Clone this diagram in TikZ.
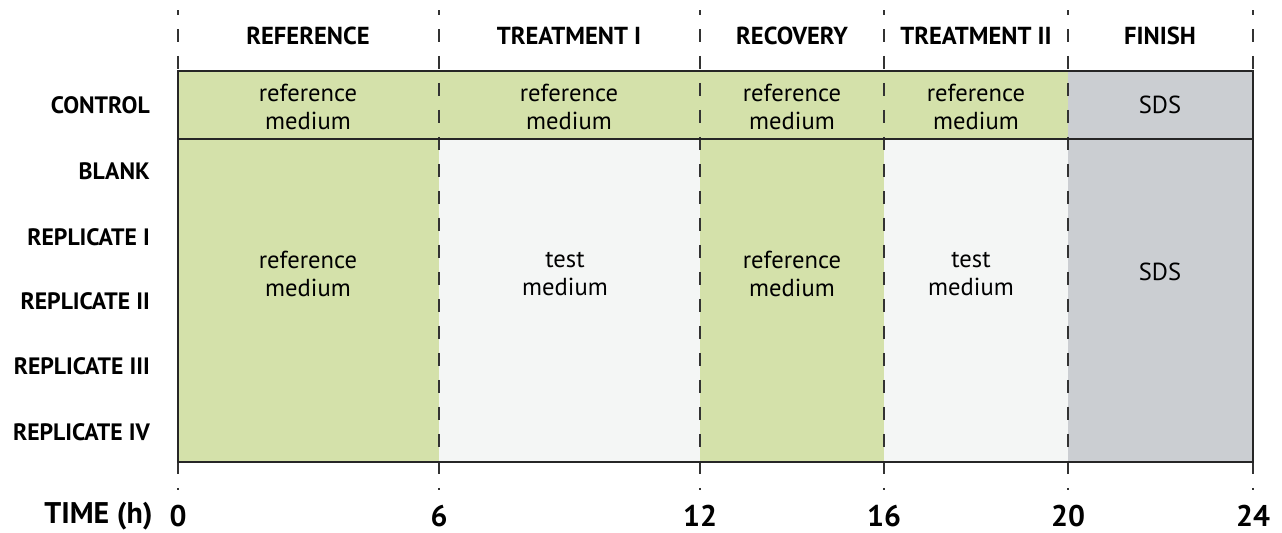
\documentclass[tikz,border=0pt]{standalone}
\usepackage{fontspec}
\setmainfont{PT Sans}
\usepackage{tikz}

\definecolor{refgreen}{RGB}{212,225,170}
\definecolor{testgray}{RGB}{244,246,245}
\definecolor{sdsgray}{RGB}{203,206,210}

\begin{document}
\begin{tikzpicture}[x=0.02cm, y=-0.02cm,
    phase/.style = {font=\bfseries\fontsize{14}{16}\selectfont},
    group/.style = {anchor=east, font=\bfseries\fontsize{13.5}{15}\selectfont},
    medium/.style = {align=center, font=\fontsize{14}{16}\selectfont},
    hour/.style = {inner sep=0pt, font=\bfseries\fontsize{17}{19}\selectfont},
    border/.style = {draw=black!85, line width=0.8pt},
    grid/.style = {draw=black!80, line width=0.6pt, dash pattern=on 0.26cm off 0.28cm, dash phase=0.16cm}]
    \useasboundingbox (0,0) rectangle (1282,532);

    % fills
    \fill[refgreen] (178,71) rectangle (1068,139);
    \fill[refgreen] (178,139) rectangle (439,462);
    \fill[testgray] (439,139) rectangle (700,462);
    \fill[refgreen] (700,139) rectangle (884,462);
    \fill[testgray] (884,139) rectangle (1068,462);
    \fill[sdsgray] (1068,71) rectangle (1253,462);

    % time lines
    \coordinate (h0) at (178,516);
    \coordinate (h6) at (439,516);
    \coordinate (h12) at (700,516);
    \coordinate (h16) at (884,516);
    \coordinate (h20) at (1068,516);
    \coordinate (h24) at (1253,516);
    \draw[grid] (178,10) -- (178,490);
    \draw[grid] (439,10) -- (439,490);
    \draw[grid] (700,10) -- (700,490);
    \draw[grid] (884,10) -- (884,490);
    \draw[grid] (1068,10) -- (1068,490);
    \draw[grid] (1253,10) -- (1253,490);

    \draw[border] (178,71) rectangle (1253,462);
    \draw[border] (178,139) -- (1253,139);

    % phases
    \node[phase] (ref) at (308,36) {REFERENCE};
    \node[phase] (treat1) at (569,36) {TREATMENT I};
    \node[phase] (recov) at (792,36) {RECOVERY};
    \node[phase] (treat2) at (976,36) {TREATMENT II};
    \node[phase] (finish) at (1160,36) {FINISH};

    % groups
    \node[group] (control) at (156,105) {CONTROL};
    \node[group] (blank) at (156,171) {BLANK};
    \node[group] (rep1) at (156,237) {REPLICATE I};
    \node[group] (rep2) at (156,301) {REPLICATE II};
    \node[group] (rep3) at (156,366) {REPLICATE III};
    \node[group] (rep4) at (156,432) {REPLICATE IV};

    % media
    \node[medium] (c1) at (308,107) {reference\\medium};
    \node[medium] (c2) at (569,107) {reference\\medium};
    \node[medium] (c3) at (792,107) {reference\\medium};
    \node[medium] (c4) at (976,107) {reference\\medium};
    \node[medium] (c5) at (1160,105) {SDS};
    \node[medium] (m1) at (308,274) {reference\\medium};
    \node[medium] (m2) at (565,274) {test\\medium};
    \node[medium] (m3) at (792,274) {reference\\medium};
    \node[medium] (m4) at (971,274) {test\\medium};
    \node[medium] (m5) at (1160,272) {SDS};

    % time axis
    \node[hour, anchor=east] (time) at (153,516) {TIME (h)};
    \node[hour] (t0) at (h0) {0};
    \node[hour] (t6) at (h6) {6};
    \node[hour] (t12) at (h12) {12};
    \node[hour] (t16) at (h16) {16};
    \node[hour] (t20) at (h20) {20};
    \node[hour] (t24) at (h24) {24};
\end{tikzpicture}
\end{document}
